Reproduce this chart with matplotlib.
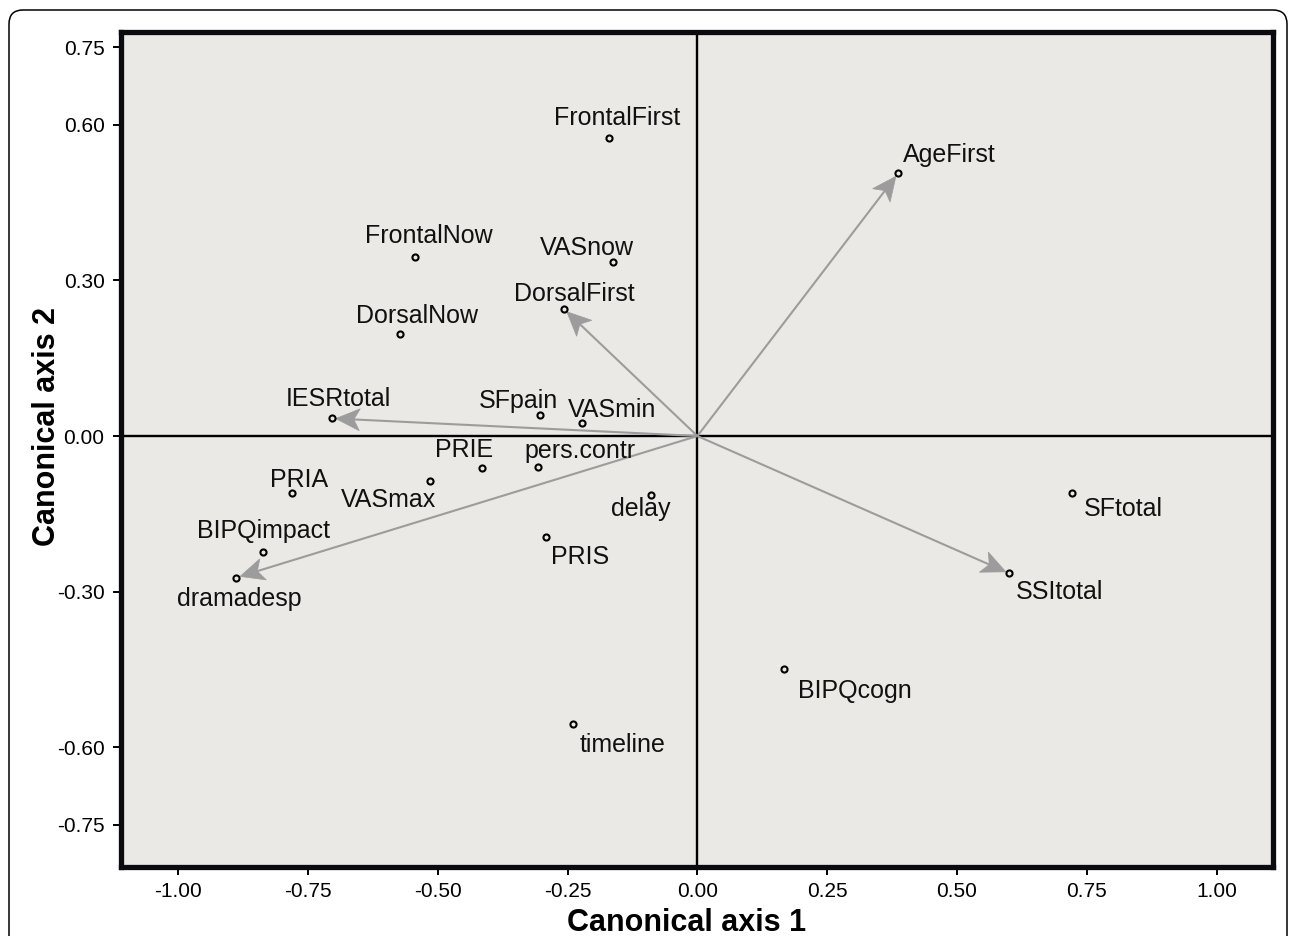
import matplotlib
matplotlib.use("Agg")
import matplotlib.pyplot as plt
import numpy as np
from matplotlib.patches import Polygon, FancyBboxPatch
from matplotlib.transforms import IdentityTransform

plt.rcParams['font.family'] = ['Liberation Sans', 'DejaVu Sans']

# ---------------- data ----------------
variables = ['FrontalFirst', 'AgeFirst', 'FrontalNow', 'VASnow', 'DorsalFirst',
             'DorsalNow', 'IESRtotal', 'SFpain', 'VASmin', 'PRIE', 'pers.contr',
             'PRIA', 'VASmax', 'BIPQimpact', 'dramadesp', 'delay', 'PRIS',
             'SFtotal', 'SSItotal', 'BIPQcogn', 'timeline']
axis1 = [-0.170, 0.387, -0.544, -0.163, -0.257,
         -0.573, -0.704, -0.304, -0.222, -0.415, -0.306,
         -0.780, -0.515, -0.836, -0.888, -0.090, -0.292,
         0.722, 0.601, 0.167, -0.240]
axis2 = [0.575, 0.507, 0.345, 0.336, 0.245,
         0.197, 0.034, 0.041, 0.026, -0.062, -0.060,
         -0.109, -0.086, -0.224, -0.273, -0.114, -0.194,
         -0.110, -0.265, -0.450, -0.555]
arrow_vars = ['AgeFirst', 'DorsalFirst', 'IESRtotal', 'dramadesp', 'SSItotal']

xticks = [-1.00, -0.75, -0.50, -0.25, 0.00, 0.25, 0.50, 0.75, 1.00]
yticks = [0.75, 0.60, 0.30, 0.00, -0.30, -0.60, -0.75]
xlabel = 'Canonical axis 1'
ylabel = 'Canonical axis 2'

# label placement: (dx px to text centre, dy px to baseline; y downwards)
label_offsets = {
    'FrontalFirst': (8, -13), 'AgeFirst': (51, -11), 'FrontalNow': (14, -14),
    'VASnow': (-26, -7), 'DorsalFirst': (10, -8), 'DorsalNow': (17, -11),
    'IESRtotal': (7, -12), 'SFpain': (-21, -7), 'VASmin': (30, -6),
    'PRIE': (-18, -11), 'pers.contr': (42, -9), 'PRIA': (7, -6),
    'VASmax': (-41, 26), 'BIPQimpact': (0, -14), 'dramadesp': (3, 28),
    'delay': (-10, 21), 'PRIS': (34, 27), 'SFtotal': (51, 23),
    'SSItotal': (50, 26), 'BIPQcogn': (71, 29), 'timeline': (50, 28),
}

BG = '#EAE9E5'
ARROW = '#9C9C9C'
W, H = 1290, 936

fig = plt.figure(figsize=(W / 100, H / 100), dpi=100)
fig.patch.set_facecolor('white')
ax = fig.add_axes([121 / W, 1 - 867 / H, (1273 - 121) / W, (867 - 32) / H])
ax.set_facecolor(BG)
ax.set_xlim(-1.110, 1.1085)
ax.set_ylim(-0.8312, 0.7792)

for s in ax.spines.values():
    s.set_linewidth(3.8)
    s.set_color('#0a0a0f')

ax.set_xticks(xticks)
ax.set_xticklabels([f'{t:.2f}' for t in xticks])
ax.set_yticks(yticks)
ax.set_yticklabels([f'{t:.2f}' for t in yticks])
ax.tick_params(axis='both', direction='out', length=5.8, width=1.4,
               labelsize=15, color='black')
ax.tick_params(axis='x', pad=5)
ax.tick_params(axis='y', pad=6)

ax.axhline(0, color='black', lw=1.7, zorder=2)
ax.axvline(0, color='black', lw=1.7, zorder=2)

# arrows (computed in display space so heads are not distorted)
inv = ax.transData.inverted()
o_disp = ax.transData.transform((0, 0))
for name in arrow_vars:
    i = variables.index(name)
    p_disp = ax.transData.transform((axis1[i], axis2[i]))
    v = p_disp - o_disp
    u = v / np.hypot(*v)
    n = np.array([-u[1], u[0]])
    tip = p_disp - 4.0 * u
    L, HW, notch = 24.0, 11.0, 6.0
    back = tip - L * u
    left = back + HW * n
    right = back - HW * n
    nd = tip - (L - notch) * u
    shaft = inv.transform(np.vstack([o_disp, nd]))
    ax.plot(shaft[:, 0], shaft[:, 1], color=ARROW, lw=1.5, zorder=3,
            solid_capstyle='butt')
    head = inv.transform(np.vstack([tip, left, nd, right]))
    ax.add_patch(Polygon(head, closed=True, facecolor=ARROW, edgecolor=ARROW,
                         lw=0.5, zorder=3))

ax.plot(axis1, axis2, linestyle='none', marker='o', markersize=4.4,
        markerfacecolor=BG, markeredgecolor='black', markeredgewidth=1.5,
        zorder=4)

for name, x, y in zip(variables, axis1, axis2):
    dx, dy = label_offsets[name]
    ax.annotate(name, xy=(x, y), xytext=(dx * 0.72, -dy * 0.72),
                textcoords='offset points', ha='center', va='baseline',
                fontsize=18, color='#111111', zorder=5)

fig.text(687 / W, 1 - 931 / H, xlabel, ha='center', va='baseline',
         fontsize=22, fontweight='bold')
fig.text(55 / W, 1 - 427 / H, ylabel, ha='center', va='baseline',
         rotation=90, rotation_mode='anchor', fontsize=22, fontweight='bold')

# outer rounded frame
frame = FancyBboxPatch((9, -40), 1278, 926 + 40, boxstyle='round,pad=0,rounding_size=14',
                       transform=IdentityTransform(), facecolor='none',
                       edgecolor='black', lw=1.1)
fig.patches.append(frame)

fig.savefig('out.png', dpi=100)
